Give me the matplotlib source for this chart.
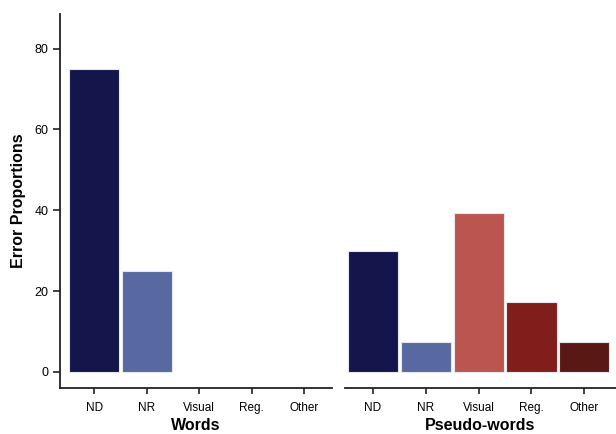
import numpy as np
import matplotlib
matplotlib.use("Agg")
import matplotlib.pyplot as plt

plt.rcParams['font.family'] = ['Liberation Sans', 'DejaVu Sans']

categories = ['ND', 'NR', 'Visual', 'Reg.', 'Other']
words_values = [75, 25, 0, 0, 0]
pseudo_values = [30, 7.5, 39.25, 17.25, 7.5]
colors = ['#14154a', '#5868a0', '#bb5550', '#7f1e1a', '#5a1815']
yticks = [0, 20, 40, 60, 80]

fig = plt.figure(figsize=(6.16, 4.34), dpi=100)
ax1 = fig.add_axes([0.0974, 0.106, 0.4416, 0.862])
ax2 = fig.add_axes([0.560, 0.106, 0.44, 0.862])

x = np.arange(len(categories))

for ax, vals, title in [(ax1, words_values, 'Words'), (ax2, pseudo_values, 'Pseudo-words')]:
    # skip edges on empty bars so nothing shows at zero
    edges = ['#e6e6ee' if v > 0 else 'none' for v in vals]
    ax.bar(x, vals, width=0.95, color=colors, edgecolor=edges, linewidth=0.8)
    ax.set_ylim(-4, 88.6)
    ax.set_xticks(x)
    ax.set_xticklabels(categories, fontsize=8.5)
    ax.set_xlabel(title, fontsize=11.5, fontweight='bold', labelpad=3)
    for s in ['top', 'right']:
        ax.spines[s].set_visible(False)
    ax.spines['bottom'].set_linewidth(1.3)
    ax.spines['bottom'].set_color('#222222')
    ax.tick_params(axis='x', length=4, width=1.2, color='#222222', pad=6)

ax1.set_xlim(-0.65, 4.53)
ax2.set_xlim(-0.53, 4.6)

ax1.spines['left'].set_linewidth(1.3)
ax1.spines['left'].set_color('#222222')
ax1.set_yticks(yticks)
ax1.tick_params(axis='y', length=5, width=1.2, color='#222222', labelsize=9)
ax1.set_ylabel('Error Proportions', fontsize=11.5, fontweight='bold', labelpad=6)

ax2.spines['left'].set_visible(False)
ax2.set_yticks([])

fig.savefig('out.png', dpi=100)
